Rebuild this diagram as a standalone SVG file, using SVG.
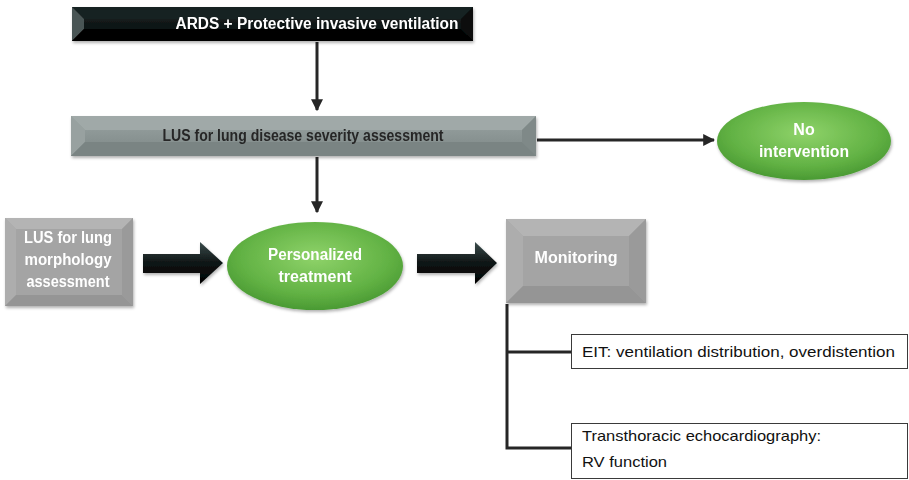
<svg xmlns="http://www.w3.org/2000/svg" width="909" height="480" viewBox="0 0 909 480">
<style>
.t{font-family:"Liberation Sans",Arial,sans-serif;font-size:15px;}
.b{font-weight:bold;font-size:16px;}
.w{fill:#ffffff;}
.d{fill:#262626;}
.k{fill:#111111;}
.conn line,.conn polyline{stroke:#262626;stroke-width:3;fill:none;}
.box{fill:#ffffff;stroke:#3a3a3a;stroke-width:1;}
</style>
<defs>
<filter id="sh" x="-10%" y="-20%" width="120%" height="150%">
<feDropShadow dx="1" dy="2" stdDeviation="1.5" flood-color="#000" flood-opacity="0.3"/>
</filter>
<radialGradient id="gg" cx="50%" cy="40%" r="60%">
<stop offset="0" stop-color="#8fd36a"/>
<stop offset="0.7" stop-color="#62b244"/>
<stop offset="1" stop-color="#4a9a33"/>
</radialGradient>
<linearGradient id="ga" x1="0" y1="0" x2="0" y2="1">
<stop offset="0" stop-color="#3b4c4c"/>
<stop offset="0.5" stop-color="#0e1515"/>
<stop offset="1" stop-color="#000000"/>
</linearGradient>
<linearGradient id="gk" x1="0" y1="0" x2="0" y2="1">
<stop offset="0" stop-color="#1c2626"/>
<stop offset="1" stop-color="#050808"/>
</linearGradient>
<linearGradient id="gs" x1="0" y1="0" x2="0" y2="1">
<stop offset="0" stop-color="#9aa4a3"/>
<stop offset="1" stop-color="#7c8685"/>
</linearGradient>
<marker id="ah" viewBox="0 0 10 10" refX="9" refY="5" markerWidth="4" markerHeight="4" orient="auto" markerUnits="strokeWidth">
<path d="M0,0 L10,5 L0,10 z" fill="#262626"/>
</marker>
</defs>

<g class="conn" id="connectors">
<line x1="317" y1="42" x2="317" y2="110" marker-end="url(#ah)"/>
<line x1="317" y1="157" x2="317" y2="212" marker-end="url(#ah)"/>
<line x1="537" y1="140" x2="714" y2="140" marker-end="url(#ah)"/>
<polyline points="507,304 507,448 571,448"/>
<line x1="507" y1="352" x2="571" y2="352"/>
<polygon points="143,254 200,254 200,242 223,263 200,284 200,273 143,273" fill="url(#ga)" stroke="none" filter="url(#sh)"/>
<polygon points="417,254 475,254 475,242 497,263 475,284 475,273 417,273" fill="url(#ga)" stroke="none" filter="url(#sh)"/>
</g>

<g id="n-ards" filter="url(#sh)">
<rect x="72" y="7" width="401" height="34" fill="url(#gk)"/>
<polygon points="72,7 473,7 461,19 84,19" fill="#162020"/>
<polygon points="72,7 84,19 84,29 72,41" fill="#4a5454"/>
<polygon points="473,7 473,41 461,29 461,19" fill="#0a0f0f"/>
<polygon points="72,41 84,29 461,29 473,41" fill="#000"/>
<text class="t b w" x="317" y="29" text-anchor="middle" textLength="283" lengthAdjust="spacingAndGlyphs">ARDS + Protective invasive ventilation</text>
</g>

<g id="n-lus-severity" filter="url(#sh)">
<rect x="71" y="116" width="465" height="40" fill="url(#gs)"/>
<polygon points="71,116 536,116 522,130 85,130" fill="#a0a9a8"/>
<polygon points="71,116 85,130 85,142 71,156" fill="#98a1a0"/>
<polygon points="536,116 536,156 522,142 522,130" fill="#7f8988"/>
<polygon points="71,156 85,142 522,142 536,156" fill="#7a8483"/>
<text class="t b d" x="303" y="141" text-anchor="middle" textLength="281" lengthAdjust="spacingAndGlyphs">LUS for lung disease severity assessment</text>
</g>

<g id="n-no-intervention" filter="url(#sh)">
<ellipse cx="804" cy="141" rx="87" ry="39" fill="url(#gg)"/>
<text class="t b w" x="804" y="135" text-anchor="middle">No</text>
<text class="t b w" x="804" y="157" text-anchor="middle" textLength="90" lengthAdjust="spacingAndGlyphs">intervention</text>
</g>

<g id="n-lus-morphology" filter="url(#sh)">
<rect x="5" y="218" width="128" height="88" fill="#a4a4a4"/>
<polygon points="5,218 133,218 122,229 16,229" fill="#b4b4b4"/>
<polygon points="5,218 16,229 16,295 5,306" fill="#adadad"/>
<polygon points="133,218 133,306 122,295 122,229" fill="#9a9a9a"/>
<polygon points="5,306 16,295 122,295 133,306" fill="#959595"/>
<text class="t b w" x="68" y="243" text-anchor="middle" textLength="88" lengthAdjust="spacingAndGlyphs">LUS for lung</text>
<text class="t b w" x="68" y="265" text-anchor="middle" textLength="87" lengthAdjust="spacingAndGlyphs">morphology</text>
<text class="t b w" x="68" y="287" text-anchor="middle" textLength="83" lengthAdjust="spacingAndGlyphs">assessment</text>
</g>

<g id="n-personalized" filter="url(#sh)">
<ellipse cx="315" cy="266" rx="88" ry="44" fill="url(#gg)"/>
<text class="t b w" x="315" y="260" text-anchor="middle" textLength="94" lengthAdjust="spacingAndGlyphs">Personalized</text>
<text class="t b w" x="315" y="282" text-anchor="middle" textLength="73" lengthAdjust="spacingAndGlyphs">treatment</text>
</g>

<g id="n-monitoring" filter="url(#sh)">
<rect x="506" y="219" width="140" height="84" fill="#a4a4a4"/>
<polygon points="506,219 646,219 629,236 523,236" fill="#b4b4b4"/>
<polygon points="506,219 523,236 523,286 506,303" fill="#adadad"/>
<polygon points="646,219 646,303 629,286 629,236" fill="#9a9a9a"/>
<polygon points="506,303 523,286 629,286 646,303" fill="#959595"/>
<text class="t b w" x="576" y="263" text-anchor="middle" textLength="83" lengthAdjust="spacingAndGlyphs">Monitoring</text>
</g>

<g id="n-eit">
<rect class="box" x="571.5" y="334.5" width="336" height="34"/>
<text class="t k" x="582" y="357" textLength="313" lengthAdjust="spacingAndGlyphs">EIT: ventilation distribution, overdistention</text>
</g>

<g id="n-tte">
<rect class="box" x="571.5" y="423.5" width="336" height="55"/>
<text class="t k" x="582" y="441" textLength="239" lengthAdjust="spacingAndGlyphs">Transthoracic echocardiography:</text>
<text class="t k" x="582" y="467" textLength="85" lengthAdjust="spacingAndGlyphs">RV function</text>
</g>
</svg>
